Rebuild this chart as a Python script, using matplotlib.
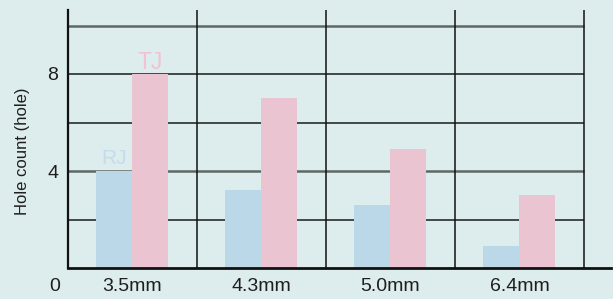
import matplotlib
matplotlib.use("Agg")
import matplotlib.pyplot as plt
import matplotlib.transforms as mtransforms

categories = ["3.5mm", "4.3mm", "5.0mm", "6.4mm"]
rj_values = [4.0, 3.2, 2.6, 0.9]
tj_values = [8.0, 7.0, 4.9, 3.0]
series_names = ["RJ", "TJ"]
ytick_values = [4, 8]

plt.rcParams["font.family"] = ["Liberation Sans", "DejaVu Sans"]

bg = "#ddecec"
rj_color = "#bbd8e8"
tj_color = "#eac4d0"
rj_text = "#c4dcee"
tj_text = "#f0c2d2"
txt = "#1e1e1e"

fig = plt.figure(figsize=(6.13, 2.99), dpi=100, facecolor=bg)
W, H = 613, 299
ax = fig.add_axes([68 / W, (H - 268) / H, (611 - 68) / W, (268 - 10) / H])
ax.set_facecolor(bg)

ymax = (268 - 10) / 24.25
ax.set_xlim(0, 4.21)
ax.set_ylim(0, ymax)

# grid
for y, col, lw in [(2, "#1a1a1a", 1.1), (4, "#5f6766", 1.8), (6, "#1a1a1a", 1.1),
                   (8, "#1a1a1a", 1.1), (10, "#5f6766", 1.8)]:
    ax.plot([0, 4], [y, y], color=col, lw=lw, zorder=1, solid_capstyle="butt")
for x in [1, 2, 3, 4]:
    ax.plot([x, x], [0, ymax], color="#111111", lw=1.1, zorder=1)

bw = 36 / 129
xs = [i + 0.5 for i in range(len(categories))]
ax.bar([x - bw / 2 for x in xs], rj_values, width=bw, color=rj_color, zorder=2)
ax.bar([x + bw / 2 for x in xs], tj_values, width=bw, color=tj_color, zorder=2)

# series labels
off_rj = mtransforms.offset_copy(ax.transData, fig=fig, x=0, y=7, units="dots")
off_tj = mtransforms.offset_copy(ax.transData, fig=fig, x=0, y=5, units="dots")
ax.text(xs[0] - bw / 2, rj_values[0], series_names[0], color=rj_text, fontsize=15,
        ha="center", va="baseline", transform=off_rj)
ax.text(xs[0] + bw / 2, tj_values[0], series_names[1], color=tj_text, fontsize=16.5,
        ha="center", va="baseline", transform=off_tj)

for s in ["top", "right"]:
    ax.spines[s].set_visible(False)
ax.spines["left"].set_linewidth(1.6)
ax.spines["bottom"].set_linewidth(2.0)
ax.spines["left"].set_color("#111111")
ax.spines["bottom"].set_color("#111111")

ax.set_xticks(xs)
ax.set_xticklabels(categories, fontsize=14)
ax.tick_params(axis="x", length=0, pad=7.5, colors=txt)
ax.set_yticks(ytick_values)
ax.set_yticklabels([str(v) for v in ytick_values], fontsize=14)
ax.tick_params(axis="y", length=0, pad=7, colors=txt)

# zero label below axis
ax.annotate("0", xy=(0, 0), xycoords="data", xytext=(-8, -10), textcoords="offset pixels",
            ha="right", va="top", fontsize=14, color=txt)

fig.text(23 / W, 1 - 151 / H, "Hole count (hole)", rotation=90, ha="center", va="center",
         fontsize=12, color=txt)

fig.savefig("out.png", dpi=100, facecolor=bg)
